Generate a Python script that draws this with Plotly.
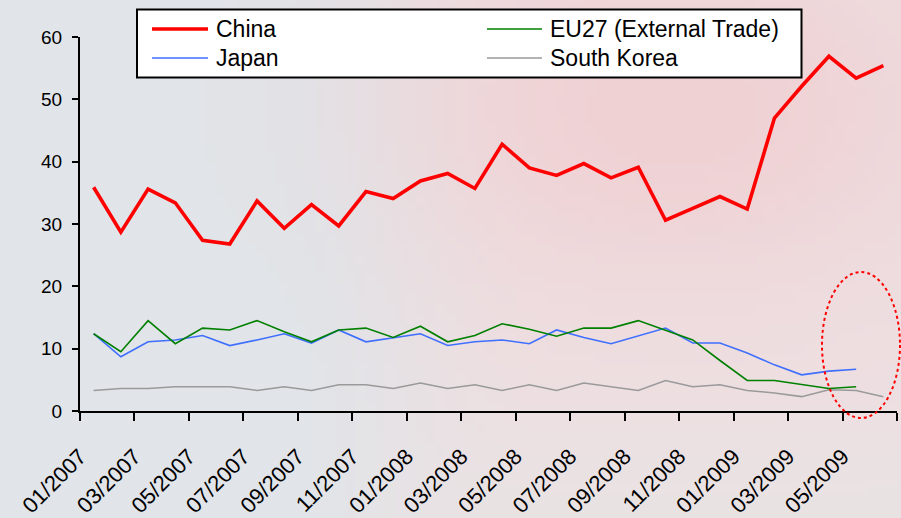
import base64
import math
import struct
import zlib

import plotly.graph_objects as go

# ---------------- data ----------------
months = [
    "01/2007", "02/2007", "03/2007", "04/2007", "05/2007", "06/2007",
    "07/2007", "08/2007", "09/2007", "10/2007", "11/2007", "12/2007",
    "01/2008", "02/2008", "03/2008", "04/2008", "05/2008", "06/2008",
    "07/2008", "08/2008", "09/2008", "10/2008", "11/2008", "12/2008",
    "01/2009", "02/2009", "03/2009", "04/2009", "05/2009", "06/2009",
]
china = [35.9, 28.7, 35.6, 33.4, 27.4, 26.8, 33.7, 29.3, 33.1, 29.7,
         35.2, 34.1, 36.9, 38.1, 35.7, 42.8, 39.0, 37.8, 39.7, 37.4,
         39.1, 30.6, 32.5, 34.4, 32.4, 47.0, 52.1, 56.9, 53.4, 55.4]
eu27 = [12.4, 9.5, 14.5, 10.8, 13.3, 13.0, 14.5, 12.7, 11.1, 13.0,
        13.3, 11.8, 13.6, 11.1, 12.1, 14.0, 13.1, 12.0, 13.3, 13.3,
        14.5, 13.0, 11.4, 8.1, 4.9, 4.9, 4.2, 3.6, 3.9]
japan = [12.4, 8.7, 11.1, 11.4, 12.1, 10.5, 11.4, 12.4, 10.9, 13.0,
         11.1, 11.8, 12.4, 10.5, 11.1, 11.4, 10.8, 13.0, 11.8, 10.8,
         12.1, 13.3, 10.9, 10.9, 9.3, 7.4, 5.8, 6.4, 6.7]
south_korea = [3.3, 3.6, 3.6, 3.9, 3.9, 3.9, 3.3, 3.9, 3.3, 4.2,
               4.2, 3.6, 4.5, 3.6, 4.2, 3.3, 4.2, 3.3, 4.5, 3.9,
               3.3, 4.9, 3.9, 4.2, 3.3, 2.9, 2.3, 3.4, 3.3, 2.3]
series_names = ["China", "EU27 (External Trade)", "Japan", "South Korea"]
y_ticks = [0, 10, 20, 30, 40, 50, 60]

# ---------------- background image (generated gradient) ----------------
def make_png(w, h, fn):
    raw = b""
    for j in range(h):
        row = b"\x00"
        for i in range(w):
            r, g, b = fn(i / (w - 1), j / (h - 1))
            row += bytes((int(r), int(g), int(b)))
        raw += row
    def chunk(t, d):
        c = struct.pack(">I", len(d)) + t + d
        return c + struct.pack(">I", zlib.crc32(t + d) & 0xFFFFFFFF)
    png = b"\x89PNG\r\n\x1a\n"
    png += chunk(b"IHDR", struct.pack(">IIBBBBB", w, h, 8, 2, 0, 0, 0))
    png += chunk(b"IDAT", zlib.compress(raw, 9))
    png += chunk(b"IEND", b"")
    return "data:image/png;base64," + base64.b64encode(png).decode()

def lerp(a, b, t):
    return tuple(a[k] + (b[k] - a[k]) * t for k in range(3))

def smooth(e0, e1, x):
    t = min(max((x - e0) / (e1 - e0), 0), 1)
    return t * t * (3 - 2 * t)

def bg(u, v):
    left = (225, 229, 233)
    right = (238, 224, 226)
    c = lerp(left, right, smooth(0.3, 0.6, u))
    w = math.exp(-((u - 0.75) ** 2 / 0.09 + (v - 0.2) ** 2 / 0.12))
    c = lerp(c, (240, 206, 209), 0.85 * w)
    c = lerp(c, (231, 228, 229), 0.6 * smooth(0.7, 1.0, v) * smooth(0.3, 0.6, u))
    return c

bg_src = make_png(90, 52, bg)

# ---------------- figure ----------------
x = list(range(len(months)))
fig = go.Figure()
fig.add_trace(go.Scatter(x=x[:len(south_korea)], y=south_korea, mode="lines",
                         line=dict(color="#9a9a9a", width=1.6), name=series_names[3]))
fig.add_trace(go.Scatter(x=x[:len(japan)], y=japan, mode="lines",
                         line=dict(color="#3f6fff", width=1.6), name=series_names[2]))
fig.add_trace(go.Scatter(x=x[:len(eu27)], y=eu27, mode="lines",
                         line=dict(color="#008000", width=1.6), name=series_names[1]))
fig.add_trace(go.Scatter(x=x[:len(china)], y=china, mode="lines",
                         line=dict(color="#ff0000", width=3.6), name=series_names[0]))

L, R, T, B = 80, 4, 37, 107
W, H = 901, 518
pw, ph = W - L - R, H - T - B

def px(xp):
    return (xp - L) / pw

def py(yp):
    return (H - B - yp) / ph

font = "Liberation Sans, Arial, sans-serif"

tickvals = [i - 0.5 for i in range(0, len(months), 2)] + [len(months) - 0.5]
ticktext = [months[i] for i in range(0, len(months), 2)] + [""]

fig.update_layout(
    width=W, height=H,
    margin=dict(l=L, r=R, t=T, b=B, autoexpand=False),
    paper_bgcolor="#e6e6e8",
    plot_bgcolor="rgba(0,0,0,0)",
    showlegend=False,
    font=dict(family=font, size=19, color="#000000"),
    images=[dict(source=bg_src, xref="paper", yref="paper", x=-L / pw, y=1 + T / ph,
                 sizex=W / pw, sizey=H / ph, xanchor="left", yanchor="top",
                 sizing="stretch", layer="below")],
    xaxis=dict(range=[-0.5, len(months) - 0.5], tickvals=tickvals, ticktext=ticktext,
               tickangle=-45, ticks="outside", ticklen=8, tickwidth=2, tickcolor="black",
               showline=True, linecolor="black", linewidth=2, showgrid=False,
               zeroline=False, ticklabelstandoff=14, tickfont=dict(size=22),
               automargin=False),
    yaxis=dict(range=[0, 60], tickvals=y_ticks, ticks="outside", ticklen=6, tickwidth=2,
               tickcolor="black", showline=True, linecolor="black", linewidth=2,
               showgrid=False, zeroline=False, ticklabelstandoff=6, tickfont=dict(size=19),
               automargin=False),
)

# dotted highlight ellipse
fig.add_shape(type="circle", xref="paper", yref="paper",
              x0=px(822), x1=px(900), y0=py(418), y1=py(272),
              line=dict(color="red", width=2, dash="dot"))

# custom legend
fig.add_shape(type="rect", xref="paper", yref="paper",
              x0=px(137), x1=px(801.5), y0=py(77.5), y1=py(9.5),
              fillcolor="white", line=dict(color="black", width=2), layer="above")
legend_items = [
    (series_names[0], "#ff0000", 3.6, 152, 208, 214, 29),
    (series_names[1], "#008000", 1.6, 487, 542, 548, 29),
    (series_names[2], "#3f6fff", 1.6, 152, 208, 214, 58),
    (series_names[3], "#9a9a9a", 1.6, 487, 542, 548, 58),
]
for name, col, lw, lx0, lx1, tx, ty in legend_items:
    fig.add_shape(type="line", xref="paper", yref="paper",
                  x0=px(lx0), x1=px(lx1), y0=py(ty), y1=py(ty),
                  line=dict(color=col, width=lw), layer="above")
    fig.add_annotation(text=name, xref="paper", yref="paper", x=px(tx), y=py(ty),
                       xanchor="left", yanchor="middle", showarrow=False,
                       font=dict(size=23, color="black", family=font))

fig.write_html("out.html")
